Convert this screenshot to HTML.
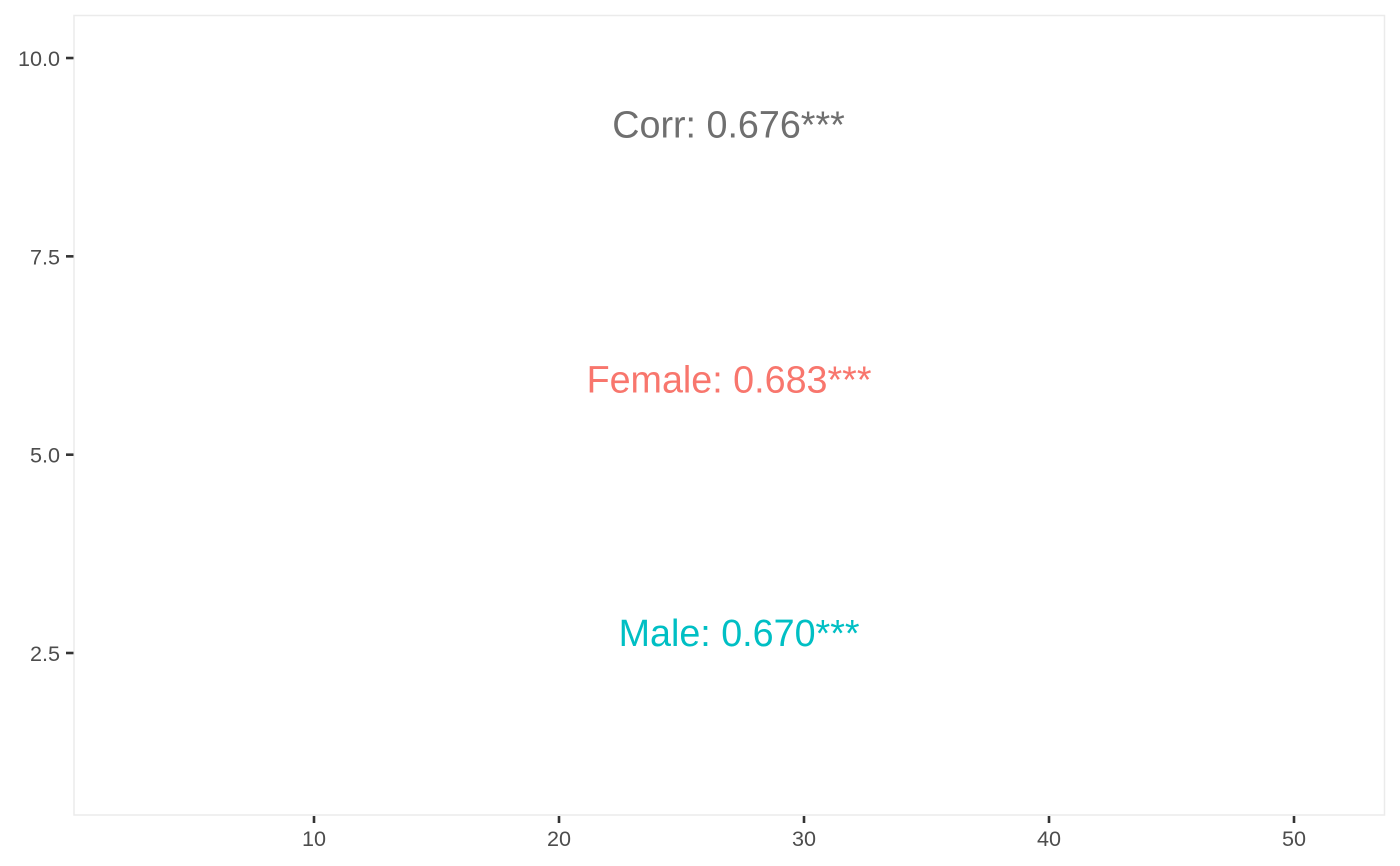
<!DOCTYPE html>
<html>
<head>
<meta charset="utf-8">
<style>
html,body{margin:0;padding:0;background:#fff;}
svg{display:block;font-family:"Liberation Sans",Arial,sans-serif;}
</style>
</head>
<body>
<svg id="chart" xmlns="http://www.w3.org/2000/svg" width="1400" height="866" viewBox="0 0 1400 866">
<rect x="0" y="0" width="1400" height="866" fill="#ffffff"/>
<rect x="74" y="15.5" width="1310.5" height="799.5" fill="#ffffff" stroke="#ebebeb" stroke-width="1.5"/>
<g id="axes"></g>
<g id="labels"></g>
</svg>
<script>
const xTicks = [10, 20, 30, 40, 50];
const yTicks = [2.5, 5, 7.5, 10];
const yTickLabels = ["2.5", "5.0", "7.5", "10.0"];
const groupNames = ["Corr", "Female", "Male"];
const corrValues = ["0.676", "0.683", "0.670"];
const significance = ["***", "***", "***"];
const groupColors = ["#6f6f6f", "#F8766D", "#00BFC4"];
const labelX = [26.92, 26.94, 27.35];
const labelY = [9.16, 5.95, 2.75];

const NS = "http://www.w3.org/2000/svg";
function xScale(v) { return 314 + (v - 10) * 24.5; }
function yScale(v) { return 653 - (v - 2.5) * 79.33; }

const axes = document.getElementById("axes");
const labels = document.getElementById("labels");

function makeLine(x1, y1, x2, y2) {
  const l = document.createElementNS(NS, "line");
  l.setAttribute("x1", x1);
  l.setAttribute("y1", y1);
  l.setAttribute("x2", x2);
  l.setAttribute("y2", y2);
  l.setAttribute("stroke", "#333333");
  l.setAttribute("stroke-width", "2.6");
  return l;
}
function makeTickText(x, y, anchor, str) {
  const t = document.createElementNS(NS, "text");
  t.setAttribute("x", x);
  t.setAttribute("y", y);
  t.setAttribute("text-anchor", anchor);
  t.setAttribute("font-size", "21.6");
  t.setAttribute("fill", "#4d4d4d");
  t.textContent = str;
  return t;
}

xTicks.forEach(function (v) {
  const px = xScale(v);
  const tick = makeLine(px, 816, px, 823);
  
  
  axes.appendChild(tick);
  const txt = makeTickText(px, 846, "middle", String(v));
  
  
  axes.appendChild(txt);
});

yTicks.forEach(function (v, i) {
  const py = yScale(v);
  const tick = makeLine(66, py, 73.5, py);
  
  
  axes.appendChild(tick);
  const txt = makeTickText(60, py + 8, "end", yTickLabels[i]);
  
  
  axes.appendChild(txt);
});

groupNames.forEach(function (name, i) {
  const t = document.createElementNS(NS, "text");
  t.setAttribute("x", xScale(labelX[i]));
  t.setAttribute("y", yScale(labelY[i]) + 13);
  t.setAttribute("text-anchor", "middle");
  t.setAttribute("font-size", "37.7");
  t.setAttribute("fill", groupColors[i]);
  t.textContent = name + ": " + corrValues[i] + significance[i];
  
  
  labels.appendChild(t);
});
</script>
</body>
</html>
